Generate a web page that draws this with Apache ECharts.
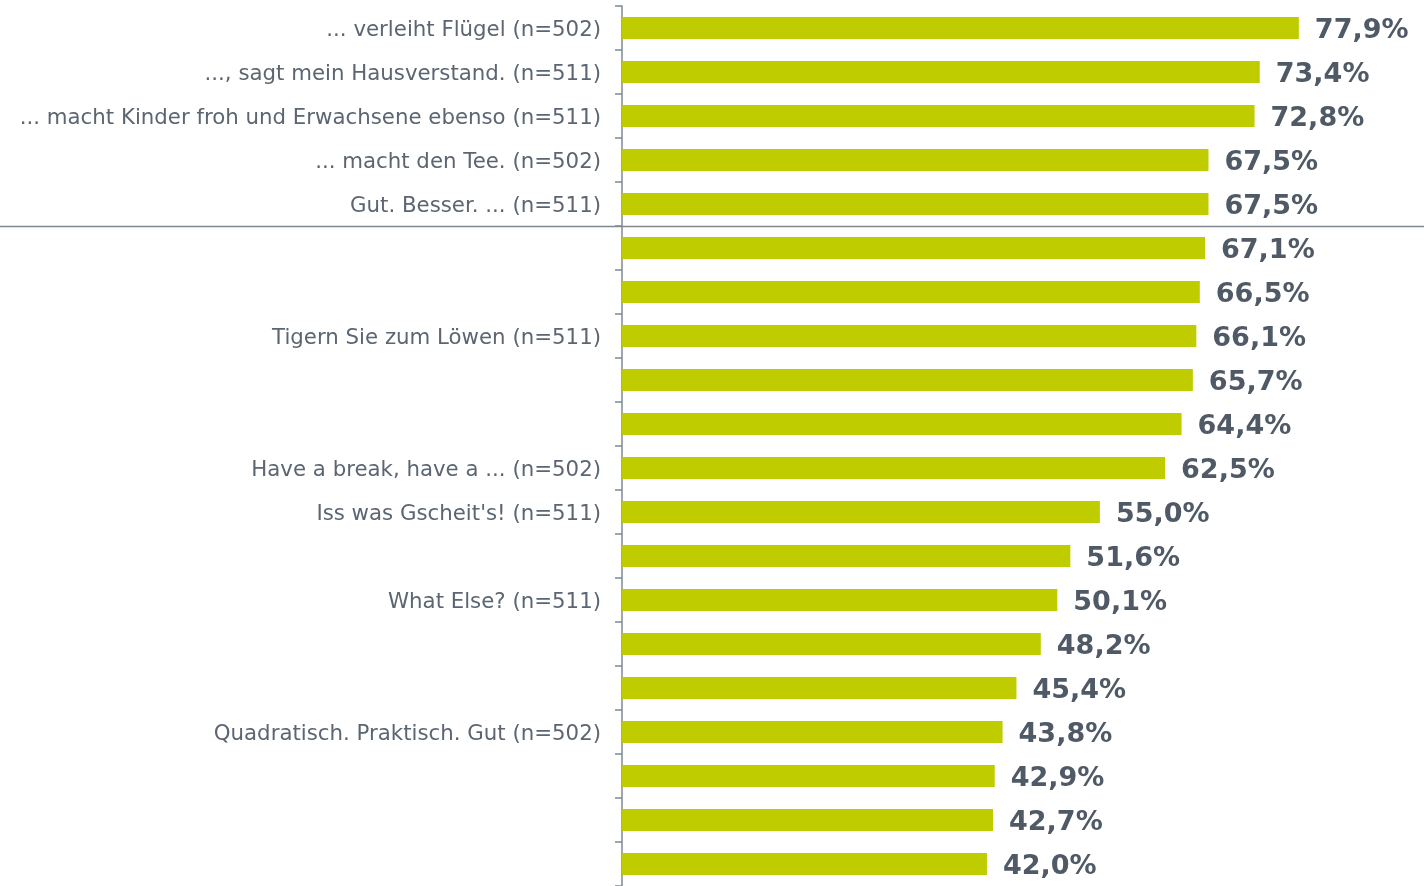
<!DOCTYPE html>
<html><head><meta charset="utf-8">
<script src="https://cdn.jsdelivr.net/npm/echarts@6/dist/echarts.min.js"></script>
<style>html,body{margin:0;padding:0;background:#fff}#c{width:1424px;height:886px}</style>
</head><body><div id="c"></div>
<script>
const categories = [
  "... verleiht Flügel (n=502)",
  "..., sagt mein Hausverstand. (n=511)",
  "... macht Kinder froh und Erwachsene ebenso (n=511)",
  "... macht den Tee. (n=502)",
  "Gut. Besser. ... (n=511)",
  "", "", "Tigern Sie zum Löwen (n=511)", "", "",
  "Have a break, have a ... (n=502)",
  "Iss was Gscheit's! (n=511)",
  "", "What Else? (n=511)", "", "",
  "Quadratisch. Praktisch. Gut (n=502)",
  "", "", ""
];
const values = [77.9, 73.4, 72.8, 67.5, 67.5, 67.1, 66.5, 66.1, 65.7, 64.4, 62.5, 55.0, 51.6, 50.1, 48.2, 45.4, 43.8, 42.9, 42.7, 42.0];
const separatorAfter = 5;

const chart = echarts.init(document.getElementById('c'), null, {renderer: 'canvas'});
const option = {
  animation: false,
  grid: {left: 622, right: 20, top: 6, bottom: -4, containLabel: false},
  xAxis: {type: 'value', min: 0, max: 90, show: false},
  yAxis: {
    type: 'category', data: categories, inverse: true,
    axisLine: {show: true, lineStyle: {color: '#7f8993', width: 1.5}},
    axisTick: {show: true, inside: false, length: 7, lineStyle: {color: '#7f8993', width: 1.5}},
    axisLabel: {margin: 21, fontFamily: '"DejaVu Sans", Verdana, sans-serif', fontSize: 21.3, color: '#5b6672', verticalAlign: 'top', lineHeight: 5}
  },
  series: [{
    type: 'bar', data: values, barWidth: '50%',
    itemStyle: {color: '#bfcd00'},
    label: {
      show: true, position: 'right', distance: 16, offset: [0, 3],
      fontFamily: '"DejaVu Sans", Verdana, sans-serif', fontWeight: 'bold', fontSize: 27, color: '#4f5a66',
      formatter: p => p.value.toFixed(1).replace('.', ',') + '%'
    }
  }]
};
chart.setOption(option);
const y0 = chart.convertToPixel({yAxisIndex: 0}, separatorAfter - 1);
const y1 = chart.convertToPixel({yAxisIndex: 0}, separatorAfter);
const ySep = Math.round((y0 + y1) / 2) + 0.5;
chart.setOption({graphic: [{type: 'line', shape: {x1: 0, y1: ySep, x2: 1424, y2: ySep}, style: {stroke: '#7f8890', lineWidth: 1.5}, z: 10}]});
</script></body></html>
